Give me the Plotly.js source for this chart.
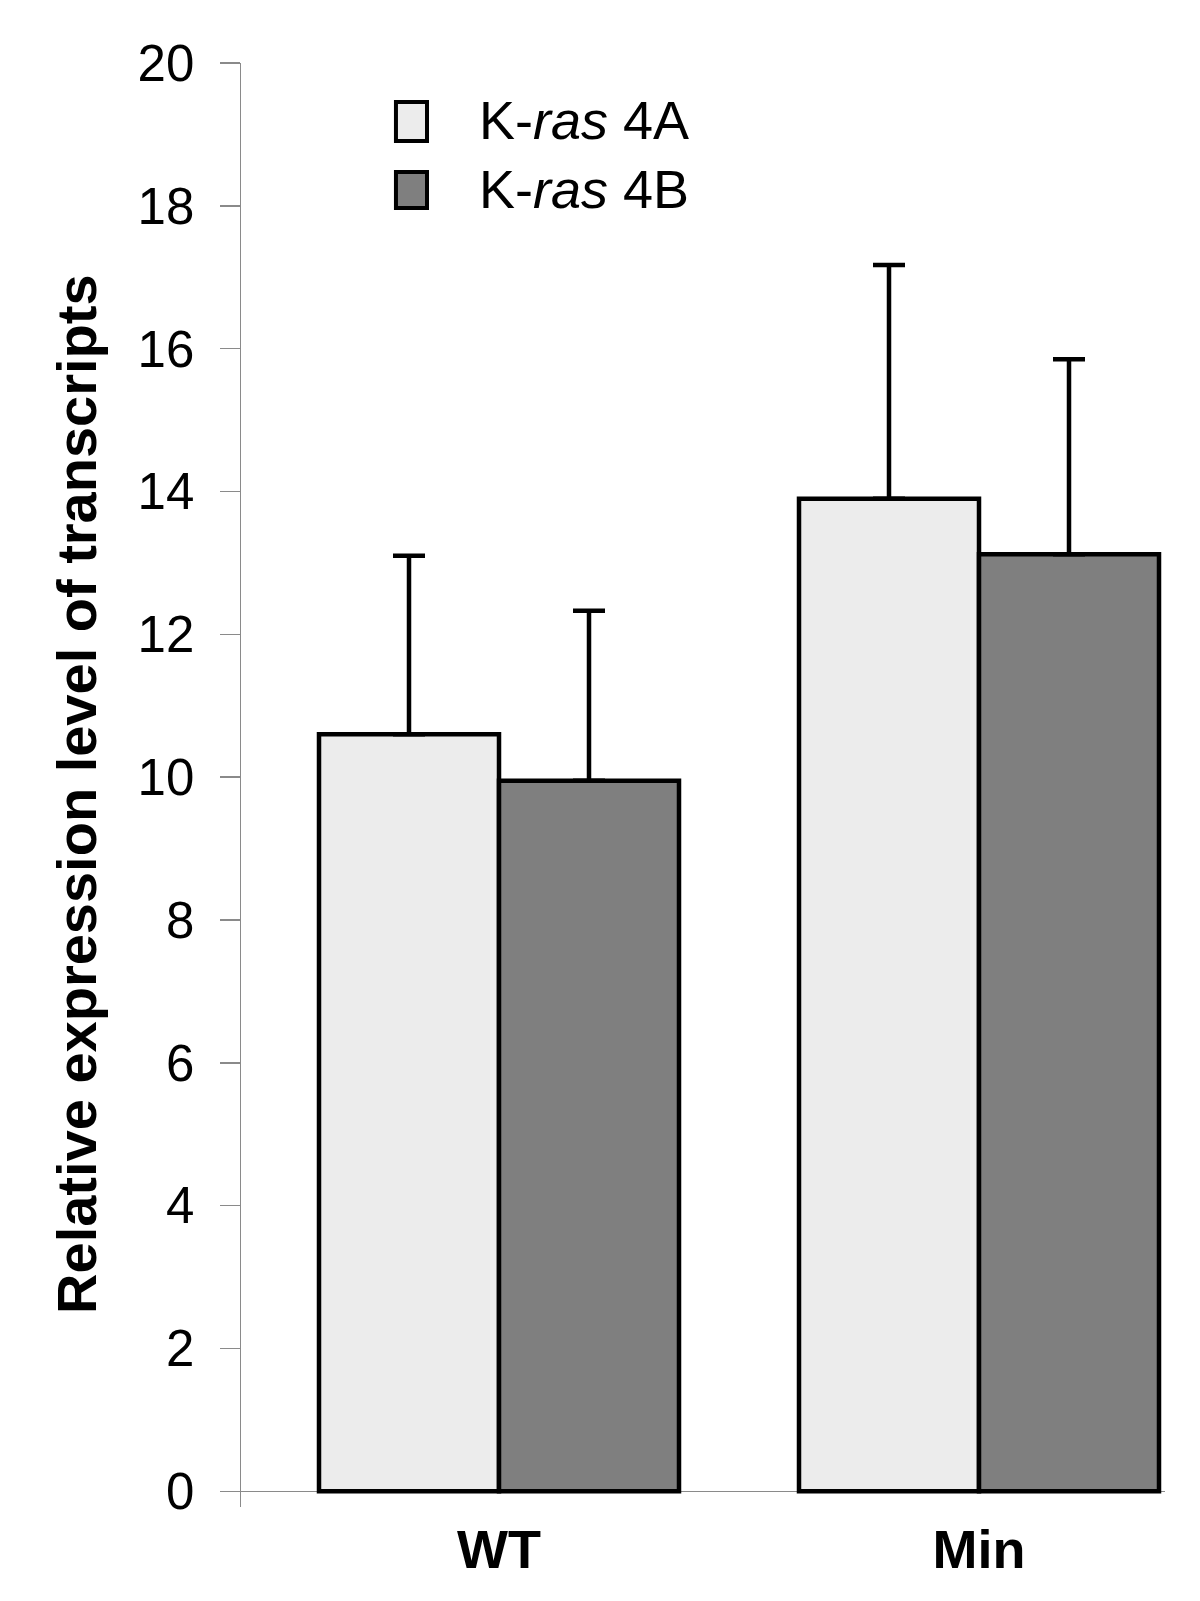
<!DOCTYPE html>
<html>
<head>
<meta charset="utf-8">
<script src="https://cdn.plot.ly/plotly-3.0.1.min.js"></script>
<style>
  html, body { margin: 0; padding: 0; background: #ffffff; }
  #chart { width: 1200px; height: 1601px; }
</style>
</head>
<body>
<div id="chart"></div>
<script>
// ---- data ----
const categories = ["WT", "Min"];
const seriesNames = ["K-<i>ras</i> 4A", "K-<i>ras</i> 4B"];
const values4A = [10.6, 13.9];
const values4B = [9.95, 13.12];
const err4A = [2.5, 3.27];
const err4B = [2.38, 2.73];
const yTickVals = [0, 2, 4, 6, 8, 10, 12, 14, 16, 18, 20];
const yTitle = "Relative expression level of transcripts";

const fillA = "#ececec";
const fillB = "#7f7f7f";

const traces = [
  {
    type: "bar", x: categories, y: values4A, name: seriesNames[0],
    marker: { color: fillA, line: { color: "#000", width: 4.5 } },
    error_y: { type: "data", symmetric: false, array: err4A, arrayminus: [0, 0],
               color: "#000", thickness: 4.5, width: 16 },
    showlegend: false
  },
  {
    type: "bar", x: categories, y: values4B, name: seriesNames[1],
    marker: { color: fillB, line: { color: "#000", width: 4.5 } },
    error_y: { type: "data", symmetric: false, array: err4B, arrayminus: [0, 0],
               color: "#000", thickness: 4.5, width: 16 },
    showlegend: false
  }
];

// legend geometry (paper units)
const legendBoxes = [
  { x0: 0.1677, x1: 0.2013, y0: 0.946, y1: 0.973, fill: fillA, ty: 0.9605 },
  { x0: 0.1677, x1: 0.2013, y0: 0.8996, y1: 0.9245, fill: fillB, ty: 0.9127 }
];

const shapes = legendBoxes.map(b => ({
  type: "rect", xref: "paper", yref: "paper",
  x0: b.x0, x1: b.x1, y0: b.y0, y1: b.y1,
  fillcolor: b.fill, line: { color: "#000", width: 4 }
}));

const annotations = legendBoxes.map((b, i) => ({
  xref: "paper", yref: "paper", x: 0.2555, y: b.ty,
  xanchor: "left", yanchor: "middle", showarrow: false,
  text: seriesNames[i],
  font: { family: "Liberation Sans, Arial, sans-serif", size: 54, color: "#000" }
}));

annotations.push({
  xref: "paper", yref: "paper", x: -0.1775, y: 0.4938,
  xanchor: "center", yanchor: "middle", showarrow: false,
  textangle: -90, text: "<b>" + yTitle + "</b>",
  font: { family: "Liberation Sans, Arial, sans-serif", size: 56, color: "#000" }
});

const layout = {
  width: 1200, height: 1601,
  margin: { l: 241, r: 35, t: 63, b: 94 },
  paper_bgcolor: "#ffffff", plot_bgcolor: "#ffffff",
  barmode: "group", bargap: 0.25, bargroupgap: 0,
  showlegend: false,
  font: { family: "Liberation Sans, Arial, sans-serif", color: "#000" },
  xaxis: {
    type: "category", range: [-0.5375, 1.3875],
    showline: false, showgrid: false, zeroline: false, ticks: "",
    tickfont: { family: "Liberation Sans, Arial, sans-serif", size: 54, color: "#000", weight: "bold" },
    ticklabelstandoff: 6
  },
  yaxis: {
    range: [-0.22, 20], tickvals: yTickVals,
    showline: true, linecolor: "#8a8a8a", linewidth: 1.5,
    ticks: "outside", ticklen: 20, tickcolor: "#8a8a8a", tickwidth: 1.5,
    showgrid: false,
    zeroline: true, zerolinecolor: "#8a8a8a", zerolinewidth: 1.5,
    tickfont: { family: "Liberation Sans, Arial, sans-serif", size: 51, color: "#000" },
    ticklabelstandoff: 15
  },
  shapes: shapes,
  annotations: annotations
};

Plotly.newPlot("chart", traces, layout, { displayModeBar: false, staticPlot: true });
</script>
</body>
</html>
